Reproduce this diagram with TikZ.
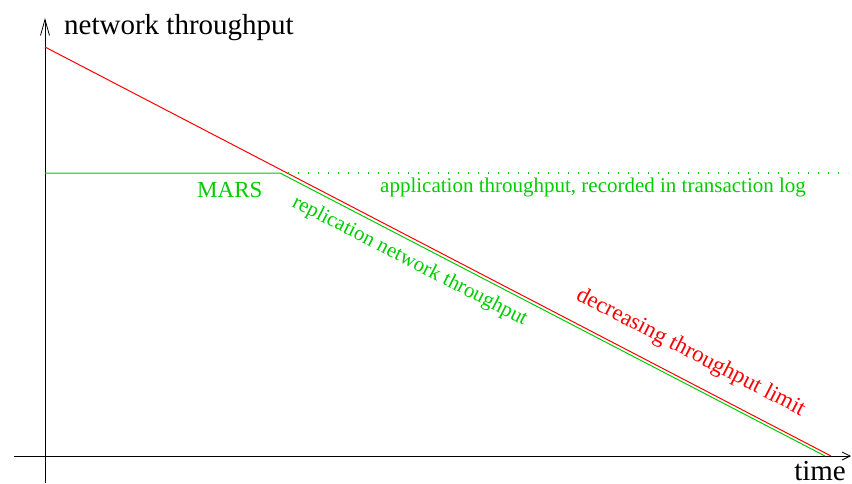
\documentclass[tikz,border=0pt]{standalone}
\usepackage{fontspec}
\setmainfont{Liberation Serif}
\usetikzlibrary{arrows.meta}
\definecolor{xgreen}{RGB}{0,205,0}
\definecolor{xred}{RGB}{255,0,0}
\begin{document}
\begin{tikzpicture}[x=1pt,y=-1pt,
  axis/.style={line width=1pt,black,-{Straight Barb[length=16pt,width=9pt,line width=0.8pt]}},
  redline/.style={line width=1pt,xred},
  greenline/.style={line width=1pt,xgreen},
  dotline/.style={line width=1.2pt,xgreen,dash pattern=on 1.2pt off 8.8pt},
  bigtext/.style={inner sep=0pt,font=\fontsize{29}{34}\selectfont},
  gtext/.style={inner sep=0pt,text=xgreen,font=\fontsize{21}{25}\selectfont},
  rtext/.style={inner sep=0pt,text=xred,font=\fontsize{23}{27}\selectfont}]
\useasboundingbox (0,0) rectangle (852,483);
% coordinates
\coordinate (yb) at (45,483);
\coordinate (yt) at (45,18);
\coordinate (xl) at (14,456);
\coordinate (xr) at (851,456);
\coordinate (r0) at (45,47);
\coordinate (r1) at (831,456);
\coordinate (g0) at (45,173);
\coordinate (g1) at (280,173);
\coordinate (g2) at (825,456);
\coordinate (d0) at (288,173);
\coordinate (d1) at (848,173);
% axes
\draw[axis] (yb) -- (yt);
\draw[axis,-{Straight Barb[length=8pt,width=8pt,line width=0.8pt]}] (xl) -- (xr);
% lines
\draw[redline] (r0) -- (r1);
\draw[greenline] (g0) -- (g1) -- (g2);
\draw[dotline] (d0) -- (d1);
% labels
\node[bigtext,anchor=base west] (ylab) at (64,34) {network throughput};
\node[bigtext,anchor=base east] (xlab) at (846,480) {time};
\node[gtext,anchor=base west,font=\fontsize{23}{27}\selectfont] (mars) at (197,197) {MARS};
\node[gtext,anchor=base west] (app) at (380,192) {application throughput, recorded in transaction log};
\node[gtext,anchor=base west,rotate=-27.2] (repl) at (291,206) {replication network throughput};
\node[rtext,anchor=base west,rotate=-27.4] (decr) at (575,299) {decreasing throughput limit};
\end{tikzpicture}
\end{document}
